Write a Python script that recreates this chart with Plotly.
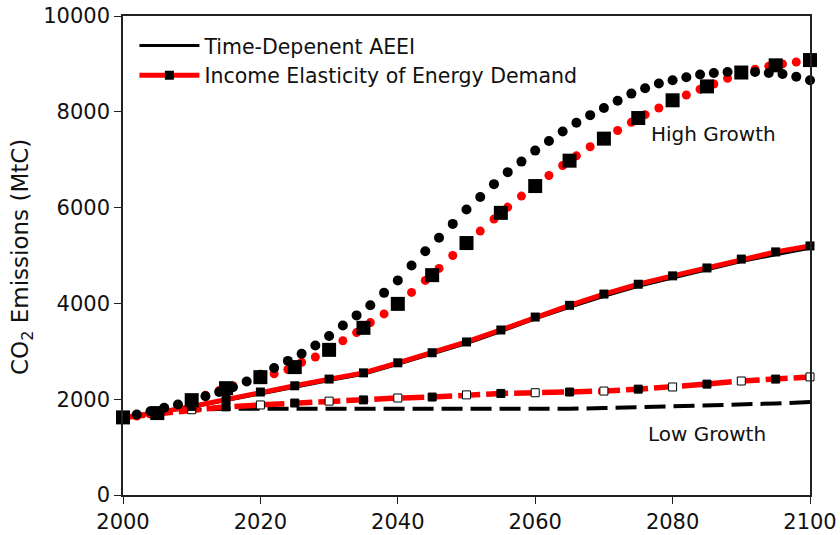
import plotly.graph_objects as go

# ---------------- data ----------------
years5 = list(range(2000, 2101, 5))
years2 = list(range(2000, 2101, 2))

# High growth
high_aeei_dots = [1620, 1680, 1750, 1820, 1890, 1970, 2060, 2150, 2250, 2370,
                  2510, 2650, 2800, 2950, 3120, 3320, 3540, 3750, 3960, 4220,
                  4480, 4790, 5090, 5370, 5660, 5960, 6220, 6490, 6740, 6960,
                  7190, 7390, 7590, 7770, 7930, 8080, 8230, 8380, 8490, 8590,
                  8660, 8720, 8780, 8810, 8830, 8830, 8830, 8810, 8790, 8730,
                  8660]
high_ied_dots = [1620, 1650, 1690, 1760, 1860, 1970, 2080, 2180, 2280, 2370,
                 2460, 2530, 2620, 2770, 2880, 3030, 3220, 3390, 3600, 3780,
                 3990, 4230, 4480, 4730, 5000, 5260, 5510, 5760, 6010, 6240,
                 6460, 6670, 6880, 7080, 7270, 7440, 7610, 7780, 7940, 8080,
                 8230, 8350, 8470, 8580, 8700, 8800, 8890, 8950, 9000, 9040,
                 9070]
high_ied_sq = [1620, 1710, 1980, 2230, 2460, 2670, 3030, 3490, 3990, 4590, 5260,
               5890, 6450, 6980, 7440, 7870, 8240, 8530, 8820, 8970, 9080]

# Medium growth (solid)
med_aeei = [1620, 1710, 1830, 1975, 2120, 2250, 2390, 2520, 2730, 2940, 3160,
            3410, 3680, 3920, 4150, 4355, 4530, 4695, 4875, 5015, 5150]
med_ied = [1620, 1720, 1850, 2000, 2150, 2280, 2420, 2550, 2760, 2970, 3195,
           3445, 3715, 3960, 4195, 4400, 4575, 4740, 4925, 5075, 5200]

# Low growth
low_aeei = [1620, 1700, 1780, 1800, 1800, 1795, 1790, 1785, 1780, 1780, 1780,
            1785, 1790, 1800, 1815, 1830, 1845, 1865, 1885, 1910, 1940]
low_ied = [1620, 1700, 1780, 1840, 1880, 1920, 1960, 1985, 2025, 2045, 2090,
           2120, 2135, 2150, 2170, 2210, 2255, 2315, 2380, 2420, 2465]

x_ticks = [2000, 2020, 2040, 2060, 2080, 2100]
x_ticktext = ["2000", "2020", "2040", "2060", "2080", "2100"]
y_ticks = [0, 2000, 4000, 6000, 8000, 10000]
y_ticktext = ["0", "2000", "4000", "6000", "8000", "10000"]

legend_names = ["Time-Depenent AEEI", "Income Elasticity of Energy Demand"]
y_title = "CO<sub>2</sub> Emissions (MtC)"

RED = "#ff0000"
BLACK = "#000000"
FONT = "DejaVu Sans"
TXT = "#111111"

fig = go.Figure()

# Low growth
fig.add_trace(go.Scatter(x=years5, y=low_aeei, mode="lines",
                         line=dict(color=BLACK, width=4, dash="21px,8px"),
                         showlegend=False, cliponaxis=False))
low_fill = [BLACK if i % 2 else "white" for i in range(len(years5))]
fig.add_trace(go.Scatter(x=years5, y=low_ied, mode="lines+markers",
                         line=dict(color=RED, width=5.5, dash="22px,6px"),
                         marker=dict(symbol="square", size=8, color=low_fill,
                                     line=dict(color=BLACK, width=1)),
                         showlegend=False, cliponaxis=False))

# Medium growth
fig.add_trace(go.Scatter(x=years5, y=med_aeei, mode="lines",
                         line=dict(color=BLACK, width=3),
                         name=legend_names[0], showlegend=True, cliponaxis=False))
fig.add_trace(go.Scatter(x=years5, y=med_ied, mode="lines+markers",
                         line=dict(color=RED, width=5),
                         marker=dict(symbol="square", size=9, color=BLACK),
                         name=legend_names[1], showlegend=True, cliponaxis=False))

# High growth
fig.add_trace(go.Scatter(x=years2, y=high_ied_dots, mode="markers",
                         marker=dict(symbol="circle", size=9, color=RED),
                         showlegend=False, cliponaxis=False))
fig.add_trace(go.Scatter(x=years2, y=high_aeei_dots, mode="markers",
                         marker=dict(symbol="circle", size=10, color=BLACK),
                         showlegend=False, cliponaxis=False))
fig.add_trace(go.Scatter(x=years5, y=high_ied_sq, mode="markers",
                         marker=dict(symbol="square", size=14, color=BLACK),
                         showlegend=False, cliponaxis=False))

fig.add_annotation(x=2086, y=7540, text="High Growth", showarrow=False,
                   font=dict(family=FONT, size=20, color=TXT))
fig.add_annotation(x=2085, y=1270, text="Low Growth", showarrow=False,
                   font=dict(family=FONT, size=20, color=TXT))
fig.add_annotation(xref="paper", yref="paper", x=-0.147, y=0.497,
                   text=y_title, textangle=-90, showarrow=False,
                   xanchor="center", yanchor="middle",
                   font=dict(family=FONT, size=23, color=TXT))

axis_common = dict(showline=True, linecolor="#222", linewidth=1.5, mirror=True,
                   showgrid=False, zeroline=False, ticks="outside", ticklen=7,
                   tickwidth=1.2, tickcolor="#222", automargin=False,
                   ticklabeloverflow="allow",
                   tickfont=dict(family=FONT, size=21, color=TXT))

fig.update_layout(
    width=840, height=535,
    margin=dict(l=123, r=30, t=16, b=40),
    paper_bgcolor="white", plot_bgcolor="white",
    font=dict(family=FONT, size=20, color=TXT),
    xaxis=dict(range=[2000, 2100], tickvals=x_ticks, ticktext=x_ticktext,
               **axis_common),
    yaxis=dict(range=[0, 10000], tickvals=y_ticks, ticktext=y_ticktext,
               **axis_common),
    legend=dict(x=0.0166, y=0.9796, xanchor="left", yanchor="top",
                bgcolor="rgba(0,0,0,0)", itemwidth=60,
                font=dict(family=FONT, size=20.5, color=TXT),
                tracegroupgap=0),
)

fig.write_html("out.html",
               config={"displayModeBar": False},
               post_script="document.body.style.margin='0';")
